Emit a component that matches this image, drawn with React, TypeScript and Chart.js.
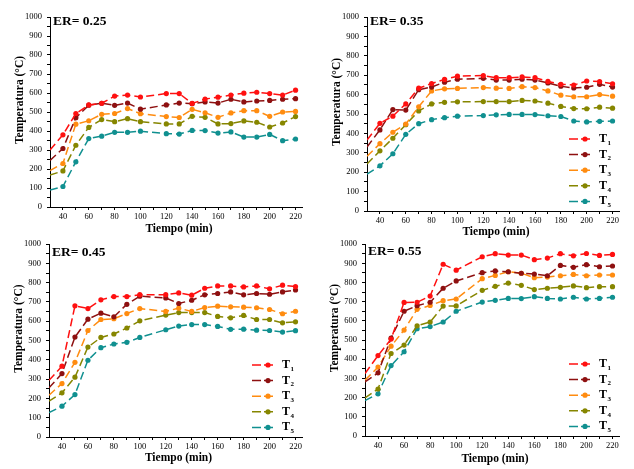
import React, { useEffect, useRef } from 'react';
import { Chart, registerables } from 'chart.js';

Chart.register(...registerables);

const FONT = '"Liberation Serif", "Times New Roman", serif';

// Time axis (min) – no reading at 110 min
const tiempo = [30, 40, 50, 60, 70, 80, 90, 100, 120, 130, 140, 150, 160, 170, 180, 190, 200, 210, 220];
const xTickValues = [40, 50, 60, 70, 80, 90, 100, 110, 120, 130, 140, 150, 160, 170, 180, 190, 200, 210, 220];
const seriesLabels = ['T1', 'T2', 'T3', 'T4', 'T5'];
const seriesColors = ['#ff1010', '#8e1010', '#ff8c10', '#868600', '#109090'];

// ER = 0.25
const er25T1 = [300, 380, 492, 537, 546, 584, 589, 579, 597, 597, 545, 568, 578, 589, 599, 604, 597, 589, 615];
const er25T2 = [245, 308, 470, 536, 546, 535, 547, 515, 537, 547, 544, 553, 547, 567, 553, 558, 561, 567, 570];
const er25T3 = [192, 229, 436, 454, 488, 492, 518, 491, 476, 471, 514, 496, 472, 495, 507, 507, 477, 500, 503];
const er25T4 = [168, 190, 325, 419, 460, 449, 465, 449, 437, 437, 477, 472, 437, 439, 453, 446, 421, 442, 476];
const er25T5 = [89, 108, 238, 360, 373, 393, 393, 399, 386, 384, 403, 402, 389, 395, 368, 368, 382, 349, 358];

// ER = 0.35
const er35T1 = [366, 452, 489, 552, 633, 657, 678, 695, 698, 687, 687, 691, 687, 668, 653, 649, 670, 667, 656];
const er35T2 = [330, 418, 523, 520, 625, 639, 664, 679, 684, 675, 675, 679, 675, 660, 643, 634, 638, 653, 639];
const er35T3 = [282, 347, 406, 448, 537, 619, 630, 632, 636, 633, 632, 641, 636, 619, 597, 589, 589, 600, 592];
const er35T4 = [242, 310, 375, 445, 516, 552, 560, 563, 564, 564, 564, 570, 567, 556, 539, 528, 527, 535, 530];
const er35T5 = [190, 233, 295, 395, 450, 471, 481, 489, 492, 496, 498, 498, 497, 491, 487, 464, 459, 462, 464];

// ER = 0.45
const er45T1 = [294, 367, 680, 666, 711, 728, 728, 738, 738, 747, 735, 771, 783, 783, 778, 783, 768, 787, 780];
const er45T2 = [255, 329, 518, 611, 642, 623, 688, 730, 721, 692, 709, 737, 744, 752, 737, 744, 740, 752, 762];
const er45T3 = [217, 277, 387, 552, 609, 613, 640, 666, 651, 668, 651, 671, 678, 675, 673, 670, 661, 639, 652];
const er45T4 = [186, 229, 310, 466, 516, 534, 565, 602, 632, 645, 645, 645, 625, 618, 630, 609, 609, 592, 597];
const er45T5 = [126, 160, 220, 398, 463, 482, 491, 516, 556, 575, 583, 583, 573, 558, 559, 554, 552, 544, 551];

// ER = 0.55
const er55T1 = [326, 419, 505, 696, 697, 729, 895, 864, 934, 950, 943, 943, 919, 927, 950, 939, 951, 941, 946];
const er55T2 = [282, 329, 510, 650, 679, 697, 770, 808, 851, 860, 856, 848, 844, 835, 889, 879, 893, 882, 886];
const er55T3 = [291, 359, 468, 552, 660, 680, 705, 714, 820, 837, 856, 848, 825, 828, 835, 842, 835, 839, 839];
const er55T4 = [198, 245, 430, 474, 574, 594, 677, 678, 759, 780, 797, 785, 763, 770, 775, 782, 773, 778, 778];
const er55T5 = [185, 220, 367, 439, 559, 570, 594, 650, 698, 707, 717, 716, 726, 717, 714, 723, 714, 717, 723];

const panels = [
  { er: 'ER= 0.25', series: [er25T1, er25T2, er25T3, er25T4, er25T5], legend: false,
    box: { left: 0, top: 0, w: 317, h: 240 }, pad: { top: 17, right: 15 }, yw: 50, xh: 33, erDy: 5, xTitleDy: 22 },
  { er: 'ER= 0.35', series: [er35T1, er35T2, er35T3, er35T4, er35T5], legend: true,
    box: { left: 317, top: 0, w: 317, h: 240 }, pad: { top: 17, right: 15 }, yw: 50, xh: 29, erDy: 5, xTitleDy: 21 },
  { er: 'ER= 0.45', series: [er45T1, er45T2, er45T3, er45T4, er45T5], legend: true,
    box: { left: 0, top: 234, w: 317, h: 235 }, pad: { top: 9, right: 15 }, yw: 49, xh: 32, erDy: 8, xTitleDy: 21 },
  { er: 'ER= 0.55', series: [er55T1, er55T2, er55T3, er55T4, er55T5], legend: true,
    box: { left: 317, top: 234, w: 317, h: 235 }, pad: { top: 10, right: 15 }, yw: 48, xh: 33, erDy: 7, xTitleDy: 23 },
];

const decorPlugin = {
  id: 'decor',
  afterDraw(chart: any, _args: any, opts: any) {
    const { ctx, chartArea: a } = chart;
    ctx.save();
    ctx.fillStyle = '#000';
    ctx.textBaseline = 'middle';
    // ER label
    ctx.textAlign = 'left';
    ctx.font = `bold 13.5px ${FONT}`;
    ctx.fillText(opts.er, a.left + 3, a.top + opts.erDy);
    // Y title
    ctx.save();
    ctx.translate(a.left - 30, (a.top + a.bottom) / 2 - 12);
    ctx.rotate(-Math.PI / 2);
    ctx.textAlign = 'center';
    ctx.font = `bold 11.5px ${FONT}`;
    ctx.fillText('Temperatura (°C)', 0, 0);
    ctx.restore();
    // X title
    ctx.textAlign = 'center';
    ctx.font = `bold 11.5px ${FONT}`;
    ctx.fillText('Tiempo (min)', (a.left + a.right) / 2 + 3, a.bottom + opts.xTitleDy);
    // Legend
    if (opts.legend) {
      chart.data.datasets.forEach((ds: any, i: number) => {
        const y = a.bottom - 72 + i * 15.6;
        const x0 = a.right - 50;
        const x1 = a.right - 26;
        ctx.strokeStyle = ds.borderColor;
        ctx.lineWidth = 1.5;
        ctx.setLineDash([9, 3]);
        ctx.beginPath();
        ctx.moveTo(x0, y);
        ctx.lineTo(x1, y);
        ctx.stroke();
        ctx.setLineDash([]);
        ctx.beginPath();
        ctx.arc(x0 + 16, y, 2.6, 0, Math.PI * 2);
        ctx.fillStyle = ds.borderColor;
        ctx.fill();
        ctx.fillStyle = '#000';
        ctx.textAlign = 'left';
        ctx.font = `bold 12px ${FONT}`;
        const main = ds.label.slice(0, 1);
        const sub = ds.label.slice(1);
        ctx.fillText(main, a.right - 20, y);
        const w = ctx.measureText(main).width;
        ctx.font = `bold 7px ${FONT}`;
        ctx.fillText(sub, a.right - 20 + w + 0.5, y + 4);
      });
    }
    ctx.restore();
  },
};

function Panel({ p }: { p: any }) {
  const ref = useRef<HTMLCanvasElement | null>(null);
  useEffect(() => {
    if (!ref.current) return;
    const chart = new Chart(ref.current, {
      type: 'line',
      data: {
        datasets: p.series.map((vals: number[], i: number) => ({
          label: seriesLabels[i],
          data: tiempo.map((x, j) => ({ x, y: vals[j] })),
          borderColor: seriesColors[i],
          backgroundColor: seriesColors[i],
          borderWidth: 1.5,
          borderDash: [8, 4],
          pointRadius: (c: any) => (c.raw && c.raw.x <= 30 ? 0 : 2.6),
          pointBorderWidth: 0,
          pointBackgroundColor: seriesColors[i],
          tension: 0,
          fill: false,
        })),
      },
      options: {
        responsive: false,
        animation: false,
        events: [],
        layout: { padding: { left: 0, top: p.pad.top, right: p.pad.right, bottom: 0 } },
        plugins: {
          legend: { display: false },
          tooltip: { enabled: false },
          title: { display: false },
          decor: { er: p.er, erDy: p.erDy, xTitleDy: p.xTitleDy, legend: p.legend },
        } as any,
        scales: {
          x: {
            type: 'linear',
            min: 30,
            max: 225,
            afterBuildTicks: (s: any) => {
              s.ticks = xTickValues.map((v) => ({ value: v }));
            },
            afterFit: (s: any) => {
              s.height = p.xh;
            },
            ticks: {
              autoSkip: false,
              maxRotation: 0,
              padding: 2,
              color: '#000',
              font: { family: FONT, size: 8.5 },
              callback: (v: any) => (Number(v) % 20 === 0 ? String(v) : ''),
            },
            grid: { display: true, drawOnChartArea: false, drawTicks: true, tickLength: 3, color: '#000', tickColor: '#000' },
            border: { display: true, color: '#000', width: 1 },
          },
          y: {
            min: 0,
            max: 1000,
            afterFit: (s: any) => {
              s.width = p.yw;
            },
            ticks: {
              stepSize: 50,
              autoSkip: false,
              padding: 5,
              color: '#000',
              font: { family: FONT, size: 8.5 },
              callback: (v: any) => (Number(v) % 100 === 0 ? String(v) : ''),
            },
            grid: { display: true, drawOnChartArea: false, drawTicks: true, tickLength: 3, color: '#000', tickColor: '#000' },
            border: { display: true, color: '#000', width: 1 },
          },
        },
      } as any,
      plugins: [decorPlugin],
    });
    return () => chart.destroy();
  }, [p]);
  return (
    <canvas
      ref={ref}
      width={p.box.w}
      height={p.box.h}
      style={{ position: 'absolute', left: p.box.left, top: p.box.top, width: p.box.w, height: p.box.h }}
    />
  );
}

export default function App() {
  return (
    <div style={{ position: 'fixed', left: 0, top: 0, width: 634, height: 469, background: '#fff', overflow: 'hidden' }}>
      {panels.map((p, i) => (
        <Panel key={i} p={p} />
      ))}
    </div>
  );
}
